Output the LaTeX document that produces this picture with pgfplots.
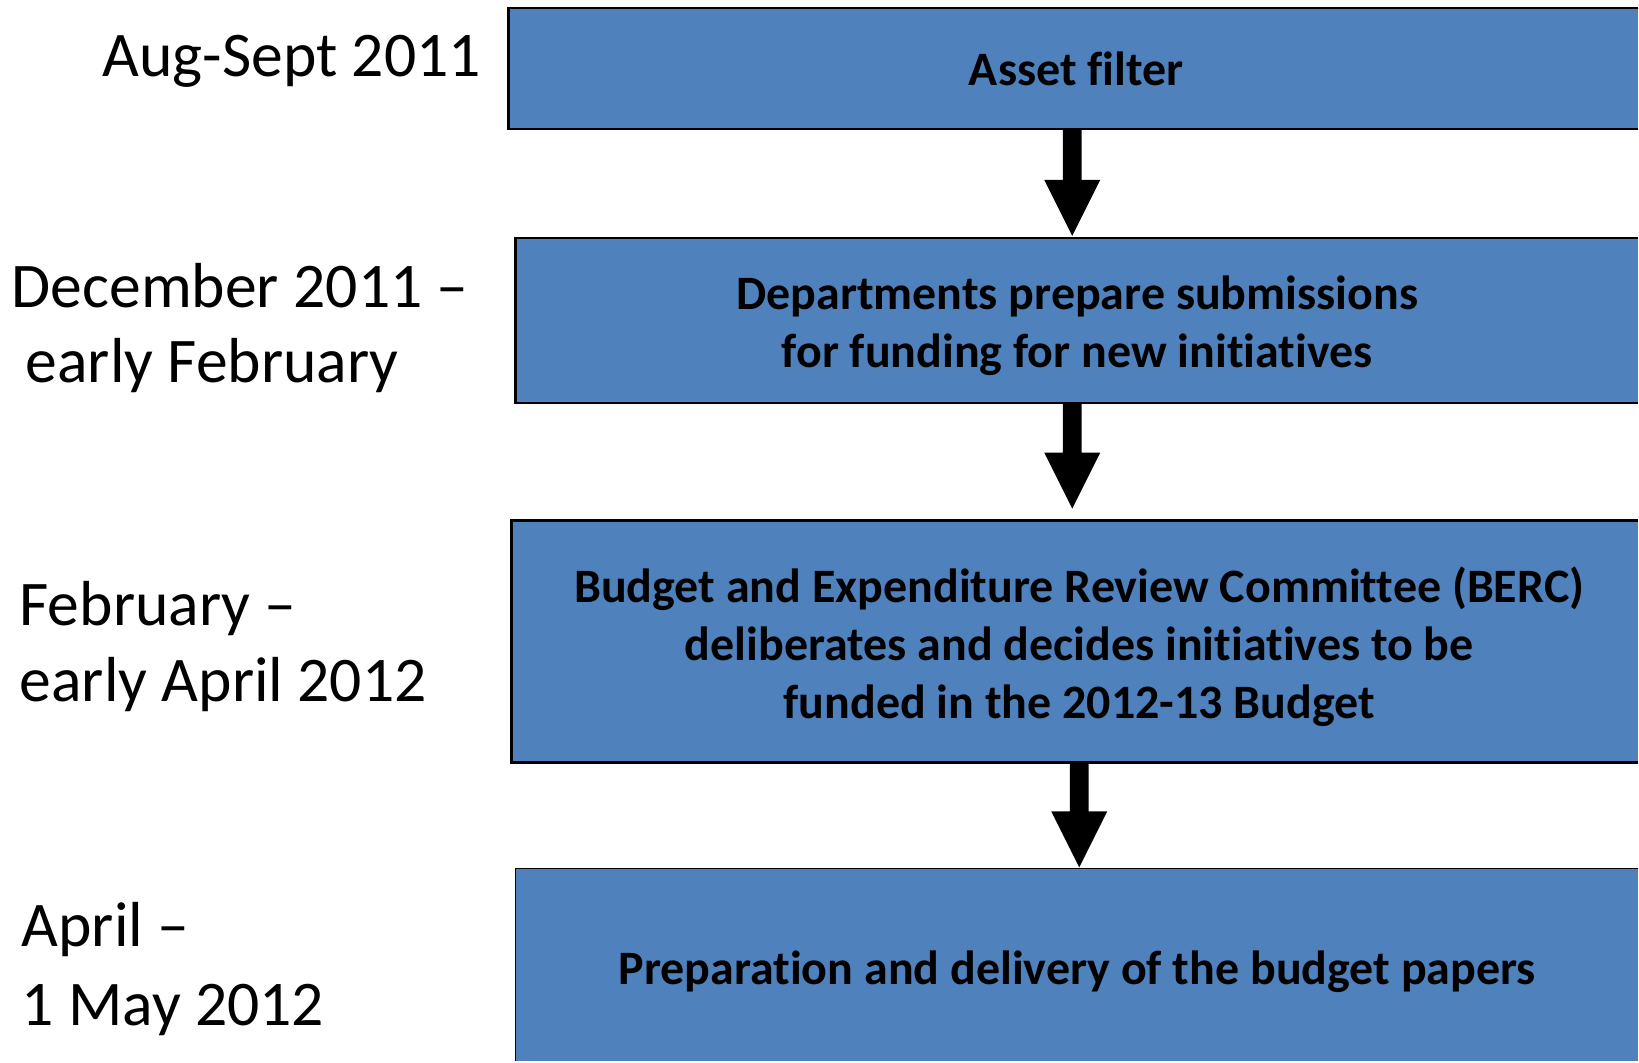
\documentclass[border=0pt]{standalone}
\usepackage{pgfplots}
\pgfplotsset{compat=1.18}
\usepackage{fontspec}
\setmainfont{Carlito}[Ligatures=NoCommon]
\definecolor{boxblue}{HTML}{4F81BD}
\begin{document}
\begin{tikzpicture}
\begin{axis}[width=491.7pt, height=318.6pt, scale only axis,
  xmin=0, xmax=1639, ymin=0, ymax=1062, y dir=reverse,
  hide axis, clip=false]
\path (rel axis cs:0,0) rectangle (rel axis cs:1,1);
% box fills
\addplot[fill=boxblue, draw=none] coordinates {(509,8) (1639,8) (1639,129) (509,129)} -- cycle;
\addplot[fill=boxblue, draw=none] coordinates {(516,238) (1639,238) (1639,403) (516,403)} -- cycle;
\addplot[fill=boxblue, draw=none] coordinates {(512,521) (1639,521) (1639,763) (512,763)} -- cycle;
\addplot[fill=boxblue, draw=none] coordinates {(516,869) (1639,869) (1639,1062) (516,1062)} -- cycle;
% box borders (open on the cut sides)
\addplot[draw=black, line width=0.7pt] coordinates {(1639,8) (509,8) (509,129) (1639,129)};
\addplot[draw=black, line width=0.7pt] coordinates {(1639,238) (516,238) (516,403) (1639,403)};
\addplot[draw=black, line width=0.7pt] coordinates {(1639,521) (512,521) (512,763) (1639,763)};
\addplot[draw=black, line width=0.5pt] coordinates {(1639,869) (516,869) (516,1062)};
% arrows
\addplot[fill=black, draw=none] coordinates {(1063.5,129) (1082.5,129) (1082.5,180) (1101,180) (1073,236) (1045,180) (1063.5,180)} -- cycle;
\addplot[fill=black, draw=none] coordinates {(1063.5,403) (1082.5,403) (1082.5,453) (1101,453) (1073,509) (1045,453) (1063.5,453)} -- cycle;
\addplot[fill=black, draw=none] coordinates {(1070.5,763) (1089.5,763) (1089.5,812) (1108,812) (1080,868) (1052,812) (1070.5,812)} -- cycle;
% box texts
\begin{scope}[every node/.style={font=\fontsize{14.4pt}{17.4pt}\selectfont\bfseries, align=center, inner sep=0pt}]
\node at (axis cs:1077,69) {Asset filter};
\node at (axis cs:1078,326) {Departments prepare submissions\\for funding for new initiatives};
\node at (axis cs:1080,647) {Budget and Expenditure Review Committee (BERC)\\deliberates and decides initiatives to be\\funded in the 2012-13 Budget};
\node at (axis cs:1078,972) {Preparation and delivery of the budget papers};
\end{scope}
% left labels
\begin{scope}[every node/.style={font=\fontsize{19.1pt}{23pt}\selectfont, inner sep=0pt}]
\node[anchor=base east] at (axis cs:482,77) {Aug-Sept 2011};
\node[anchor=base west] at (axis cs:11,308) {December 2011 –};
\node[anchor=base west] at (axis cs:25,383) {early February};
\node[anchor=base west] at (axis cs:19,626) {February –};
\node[anchor=base west] at (axis cs:19,702) {early April 2012};
\node[anchor=base west] at (axis cs:21,947) {April –};
\node[anchor=base west] at (axis cs:21,1026) {1 May 2012};
\end{scope}
\end{axis}
\end{tikzpicture}
\end{document}
